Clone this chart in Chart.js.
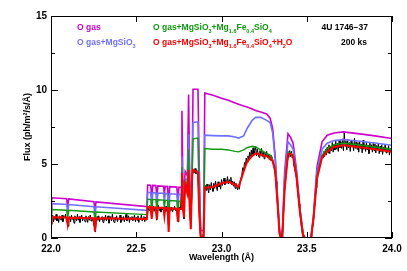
<!DOCTYPE html>
<html>
<head>
<meta charset="utf-8">
<script src="https://cdn.jsdelivr.net/npm/chart.js@4"></script>
<style>
    html, body { margin: 0; padding: 0; background: #fff; }
</style>
</head>
<body>
<canvas id="spectrum" width="407" height="271"></canvas>
<script>
// model grid (Angstrom) shared by the four model curves
const waves = [
    22.000, 22.004, 22.092, 22.098, 22.104, 22.252, 22.258, 22.264, 22.562, 22.567,
    22.585, 22.591, 22.597, 22.615, 22.621, 22.627, 22.660, 22.665, 22.670, 22.684,
    22.690, 22.696, 22.738, 22.744, 22.750, 22.764, 22.768, 22.773, 22.780, 22.787,
    22.800, 22.807, 22.813, 22.820, 22.828, 22.833, 22.862, 22.869, 22.878, 22.895,
    22.902, 22.950, 23.000, 23.040, 23.080, 23.100, 23.130, 23.150, 23.180, 23.200,
    23.230, 23.265, 23.285, 23.300, 23.315, 23.330, 23.340, 23.350, 23.358, 23.370,
    23.390, 23.405, 23.420, 23.440, 23.460, 23.478, 23.488, 23.525, 23.540, 23.560,
    23.590, 23.620, 23.660, 23.715, 23.800, 23.900, 24.000
];
const oGas = [
    2.00, 2.72, 2.65, 2.10, 2.64, 2.45, 1.90, 2.44, 2.12, 3.58,
    3.56, 2.70, 3.55, 3.54, 2.80, 3.52, 3.50, 3.00, 3.49, 3.48,
    1.80, 3.47, 3.44, 2.60, 3.43, 3.42, 8.60, 4.00, 3.20, 4.50,
    4.20, 9.70, 4.50, 1.60, 4.80, 10.05, 10.05, 5.00, 0.50, 0.50,
    9.80, 9.65, 9.45, 9.30, 9.12, 9.04, 8.92, 8.85, 8.72, 8.62,
    8.52, 8.38, 8.10, 7.40, 5.50, 2.50, 0.60, 0.00, 0.60, 4.40,
    7.05, 6.80, 6.40, 4.60, 2.00, 0.30, 0.00, 0.00, 1.60, 4.80,
    6.50, 6.95, 7.10, 7.17, 7.05, 6.90, 6.72
];
const oGasMgSiO3 = [
    1.70, 2.32, 2.27, 1.75, 2.26, 2.12, 1.50, 2.11, 1.87, 3.08,
    3.07, 2.20, 3.06, 3.05, 2.30, 3.04, 3.02, 2.50, 3.01, 3.00,
    1.30, 2.99, 2.96, 2.10, 2.95, 2.94, 5.50, 3.20, 2.60, 4.00,
    3.90, 7.00, 3.80, 1.20, 4.50, 7.80, 7.85, 3.50, 0.20, 0.20,
    6.95, 6.92, 6.90, 6.90, 6.82, 6.75, 6.90, 7.40, 7.95, 8.15,
    8.15, 7.95, 7.80, 7.10, 5.30, 2.40, 0.50, 0.00, 0.55, 4.00,
    6.50, 6.30, 6.00, 4.40, 1.90, 0.28, 0.00, 0.00, 1.50, 4.50,
    6.00, 6.40, 6.58, 6.65, 6.55, 6.42, 6.27
];
const oGasMgSiO3Olivine = [
    1.40, 1.92, 1.88, 1.35, 1.87, 1.76, 1.10, 1.75, 1.58, 2.62,
    2.61, 1.80, 2.60, 2.59, 1.85, 2.58, 2.56, 2.05, 2.55, 2.54,
    0.90, 2.53, 2.50, 1.60, 2.49, 2.48, 4.80, 2.60, 2.00, 3.80,
    3.70, 6.00, 3.20, 0.90, 4.40, 6.70, 6.75, 2.80, 0.10, 0.10,
    6.05, 6.00, 6.00, 5.95, 5.85, 5.82, 5.95, 6.10, 6.20, 6.15,
    5.95, 5.70, 5.60, 5.30, 4.60, 2.20, 0.40, 0.00, 0.50, 3.40,
    5.80, 5.75, 5.60, 4.20, 1.80, 0.26, 0.00, 0.00, 1.40, 4.20,
    5.60, 6.05, 6.30, 6.40, 6.30, 6.15, 5.98
];
const oGasFullIce = [
    1.00, 1.40, 1.38, 0.90, 1.37, 1.33, 0.45, 1.33, 1.28, 2.10,
    2.08, 1.30, 2.07, 2.06, 1.25, 2.05, 2.04, 1.50, 2.03, 2.02,
    0.40, 2.01, 1.98, 1.10, 1.97, 1.96, 4.40, 2.00, 1.40, 3.60,
    3.00, 4.60, 2.20, 0.60, 4.20, 4.62, 4.40, 1.80, 0.05, 0.05,
    3.40, 3.45, 3.70, 3.80, 3.60, 3.45, 4.50, 5.15, 5.55, 5.72,
    5.62, 5.53, 5.40, 5.20, 4.50, 2.10, 0.30, 0.00, 0.45, 3.20,
    5.65, 5.70, 5.50, 4.10, 1.75, 0.25, 0.00, 0.00, 1.30, 4.00,
    5.45, 5.85, 6.15, 6.27, 6.15, 6.00, 5.82
];

// observed flux, 0.005 A bins from 22.000 to 24.000 (one row = 0.1 A)
const dataStart = 22.0;
const dataStep = 0.005;
const observedFlux = [
    0.90, 1.30, 1.55, 1.10, 1.45, 1.25, 1.60, 1.15, 1.40, 1.05, 1.50, 1.30, 1.20, 1.55, 1.10, 1.45, 1.35, 1.60, 1.15, 1.05,
    0.80, 1.20, 1.45, 1.10, 1.55, 1.25, 1.40, 1.00, 1.50, 1.30, 1.15, 1.60, 1.20, 1.45, 1.05, 1.35, 1.55, 1.15, 1.40, 1.25,
    1.10, 1.50, 1.30, 1.05, 1.45, 1.20, 1.55, 1.15, 1.40, 1.25, 0.95, 0.70, 0.40, 1.05, 1.45, 1.20, 1.50, 1.10, 1.35, 1.25,
    1.45, 1.05, 1.40, 1.20, 1.55, 1.15, 1.35, 1.50, 1.00, 1.30, 1.45, 1.15, 1.60, 1.25, 1.05, 1.40, 1.20, 1.50, 1.10, 1.35,
    1.25, 1.55, 1.05, 1.40, 1.20, 1.45, 1.10, 1.35, 1.60, 1.15, 1.30, 1.50, 1.05, 1.40, 1.25, 1.45, 1.15, 1.35, 1.55, 1.10,
    1.40, 1.20, 1.50, 1.05, 1.35, 1.25, 1.55, 1.15, 1.30, 1.45, 1.10, 1.40, 1.20, 1.35, 2.05, 1.85, 2.20, 1.95, 1.30, 1.90,
    2.15, 1.80, 2.05, 1.90, 1.20, 1.95, 2.20, 1.85, 2.00, 1.75, 2.10, 1.90, 2.05, 1.50, 1.95, 2.15, 1.80, 2.05, 0.45, 1.70,
    1.95, 2.10, 1.80, 2.05, 1.90, 2.15, 1.85, 2.00, 1.60, 1.10, 1.85, 2.10, 1.95, 3.50, 4.40, 2.40, 1.30, 3.60, 3.90, 3.40,
    3.00, 4.50, 3.00, 1.60, 0.70, 2.80, 4.30, 4.60, 4.40, 4.70, 4.35, 4.60, 4.20, 3.40, 1.50, 0.30, 0.05, 0.00, 0.10, 0.40,
    3.10, 3.55, 3.20, 3.65, 3.30, 3.05, 3.60, 3.25, 3.75, 3.40, 3.15, 3.70, 3.35, 3.85, 3.50, 3.20, 3.80, 3.45, 3.65, 3.30,
    3.95, 3.55, 3.80, 4.05, 3.60, 3.90, 3.70, 4.15, 3.65, 3.95, 3.75, 4.10, 3.60, 3.85, 3.50, 3.80, 3.35, 3.70, 3.45, 3.25,
    3.60, 3.30, 3.85, 4.10, 4.40, 4.75, 4.60, 5.10, 4.90, 5.40, 5.10, 5.55, 5.30, 5.80, 5.40, 5.95, 5.50, 6.10, 5.60, 5.90,
    6.20, 5.55, 6.00, 5.70, 5.45, 5.90, 5.60, 6.05, 5.50, 5.80, 5.35, 5.75, 5.55, 5.85, 5.40, 5.65, 5.30, 5.60, 5.25, 5.50,
    5.20, 4.95, 4.75, 4.30, 3.80, 3.00, 2.10, 1.20, 0.30, 0.00, 0.00, 0.00, 0.90, 2.20, 3.30, 4.20, 4.90, 5.30, 5.85, 5.45,
    5.90, 5.50, 5.85, 5.40, 5.60, 4.90, 4.60, 4.40, 4.00, 3.40, 2.80, 2.30, 1.70, 1.10, 0.60, 0.20, 0.00, 0.00, 0.00, 0.00,
    0.00, 0.00, 0.00, 0.00, 0.00, 0.00, 0.40, 0.80, 1.30, 2.00, 2.70, 3.40, 4.00, 4.40, 4.80, 5.00, 5.30, 5.20, 5.60, 5.40,
    5.85, 5.50, 6.00, 5.60, 6.15, 5.75, 6.30, 5.70, 6.20, 5.90, 6.45, 5.80, 6.35, 5.95, 6.55, 6.00, 6.40, 5.85, 6.60, 6.10,
    6.50, 6.05, 6.70, 5.90, 7.10, 6.20, 6.55, 5.95, 6.65, 6.10, 6.45, 5.85, 6.60, 6.15, 6.40, 5.90, 6.75, 6.05, 6.50, 6.00,
    6.45, 5.80, 6.55, 6.05, 6.35, 5.75, 6.60, 6.00, 6.30, 5.85, 6.50, 5.95, 6.25, 5.70, 6.45, 6.05, 6.30, 5.80, 6.40, 5.90,
    6.35, 5.75, 6.25, 5.95, 6.40, 5.70, 6.20, 5.85, 6.30, 5.65, 6.15, 5.90, 6.35, 5.75, 6.10, 5.80, 6.25, 5.60, 6.05, 5.85,
    6.00
];

const xMajorTicks = [22.0, 22.5, 23.0, 23.5, 24.0];
const yMajorTicks = [0, 5, 10, 15];
const yMinorTicks = [2.5, 7.5, 12.5];

const MAGENTA = '#cc00cc';
const BLUE = '#7070ff';
const GREEN = '#119911';
const RED = '#ff0000';

const FONT = '"Liberation Sans", Arial, sans-serif';

// legend text rows; each part is [text, isSubscript]
const legendRows = [
    { color: MAGENTA, x: 77, y: 28, align: 'left', parts: [['O gas', 0]] },
    { color: BLUE, x: 77, y: 43, align: 'left', parts: [['O gas+MgSiO', 0], ['3', 1]] },
    { color: GREEN, x: 153, y: 28, align: 'left',
      parts: [['O gas+MgSiO', 0], ['3', 1], ['+Mg', 0], ['1.6', 1], ['Fe', 0], ['0.4', 1], ['SiO', 0], ['4', 1]] },
    { color: RED, x: 153, y: 43, align: 'left',
      parts: [['O gas+MgSiO', 0], ['3', 1], ['+Mg', 0], ['1.6', 1], ['Fe', 0], ['0.4', 1], ['SiO', 0], ['4', 1], ['+H', 0], ['2', 1], ['O', 0]] },
    { color: '#000', x: 368, y: 28, align: 'right', parts: [['4U 1746\u221237', 0]] },
    { color: '#000', x: 367, y: 43, align: 'right', parts: [['200 ks', 0]] }
];

function toPoints(xs, ys) {
    return ys.map((v, i) => ({ x: xs[i], y: v }));
}

function drawRich(ctx, row) {
    const big = `bold 8.5px ${FONT}`;
    const small = `bold 5.5px ${FONT}`;
    let width = 0;
    row.parts.forEach(([t, sub]) => {
        ctx.font = sub ? small : big;
        width += ctx.measureText(t).width;
    });
    let cx = row.align === 'right' ? row.x - width : row.x;
    ctx.fillStyle = row.color;
    ctx.textAlign = 'left';
    ctx.textBaseline = 'middle';
    row.parts.forEach(([t, sub]) => {
        ctx.font = sub ? small : big;
        ctx.fillText(t, cx, sub ? row.y + 3 : row.y);
        cx += ctx.measureText(t).width;
    });
}

const frameAndText = {
    id: 'frameAndText',
    afterDraw(chart) {
        const { ctx, chartArea: a, scales: { x, y } } = chart;
        ctx.save();
        ctx.strokeStyle = '#000';
        ctx.lineWidth = 1;
        ctx.strokeRect(a.left + 0.5, a.top + 0.5, a.right - a.left - 1, a.bottom - a.top - 1);

        ctx.beginPath();
        xMajorTicks.forEach(v => {
            const px = Math.round(x.getPixelForValue(v)) + 0.5;
            ctx.moveTo(px, a.bottom);
            ctx.lineTo(px, a.bottom - 6);
            ctx.moveTo(px, a.top);
            ctx.lineTo(px, a.top + 6);
        });
        yMajorTicks.forEach(v => {
            const py = Math.round(y.getPixelForValue(v)) + 0.5;
            ctx.moveTo(a.left, py);
            ctx.lineTo(a.left + 7, py);
            ctx.moveTo(a.right, py);
            ctx.lineTo(a.right - 7, py);
        });
        yMinorTicks.forEach(v => {
            const py = Math.round(y.getPixelForValue(v)) + 0.5;
            ctx.moveTo(a.left, py);
            ctx.lineTo(a.left + 4, py);
            ctx.moveTo(a.right, py);
            ctx.lineTo(a.right - 4, py);
        });
        ctx.stroke();

        ctx.fillStyle = '#000';
        ctx.font = `bold 9px ${FONT}`;
        ctx.textAlign = 'center';
        ctx.textBaseline = 'middle';
        ctx.fillText('Wavelength (\u00C5)', (a.left + a.right) / 2, 258);

        ctx.translate(28, (a.top + a.bottom) / 2);
        ctx.rotate(-Math.PI / 2);
        ctx.fillText('Flux (ph/m\u00B2/s/\u00C5)', 0, 0);
        ctx.restore();

        ctx.save();
        legendRows.forEach(row => drawRich(ctx, row));
        ctx.restore();
    }
};

const observedWaves = observedFlux.map((_, i) => dataStart + i * dataStep);

new Chart(document.getElementById('spectrum'), {
    type: 'line',
    data: {
        datasets: [
            { label: 'data', data: toPoints(observedWaves, observedFlux), borderColor: '#000', borderWidth: 1, order: 5 },
            { label: 'O gas', data: toPoints(waves, oGas), borderColor: MAGENTA, borderWidth: 1.6, order: 4 },
            { label: 'O gas+MgSiO3', data: toPoints(waves, oGasMgSiO3), borderColor: BLUE, borderWidth: 1.6, order: 3 },
            { label: 'O gas+MgSiO3+Mg1.6Fe0.4SiO4', data: toPoints(waves, oGasMgSiO3Olivine), borderColor: GREEN, borderWidth: 1.4, order: 2 },
            { label: 'O gas+MgSiO3+Mg1.6Fe0.4SiO4+H2O', data: toPoints(waves, oGasFullIce), borderColor: RED, borderWidth: 2, order: 1 }
        ]
    },
    options: {
        responsive: false,
        animation: false,
        events: [],
        layout: { padding: { top: 16, right: 15, bottom: 0, left: 0 } },
        elements: { point: { radius: 0 }, line: { tension: 0, fill: false } },
        plugins: { legend: { display: false }, tooltip: { enabled: false } },
        scales: {
            x: {
                type: 'linear',
                min: 22,
                max: 24,
                afterFit: s => { s.height = 33; },
                grid: { display: false, drawTicks: false },
                border: { display: false },
                ticks: {
                    stepSize: 0.5,
                    padding: 5,
                    maxRotation: 0,
                    autoSkip: false,
                    color: '#000',
                    font: { family: FONT, size: 10, weight: 'bold' },
                    callback: v => v.toFixed(1)
                }
            },
            y: {
                min: 0,
                max: 15,
                afterFit: s => { s.width = 51; },
                grid: { display: false, drawTicks: false },
                border: { display: false },
                ticks: {
                    stepSize: 5,
                    padding: 4,
                    color: '#000',
                    font: { family: FONT, size: 10, weight: 'bold' }
                }
            }
        }
    },
    plugins: [frameAndText]
});
</script>
</body>
</html>
